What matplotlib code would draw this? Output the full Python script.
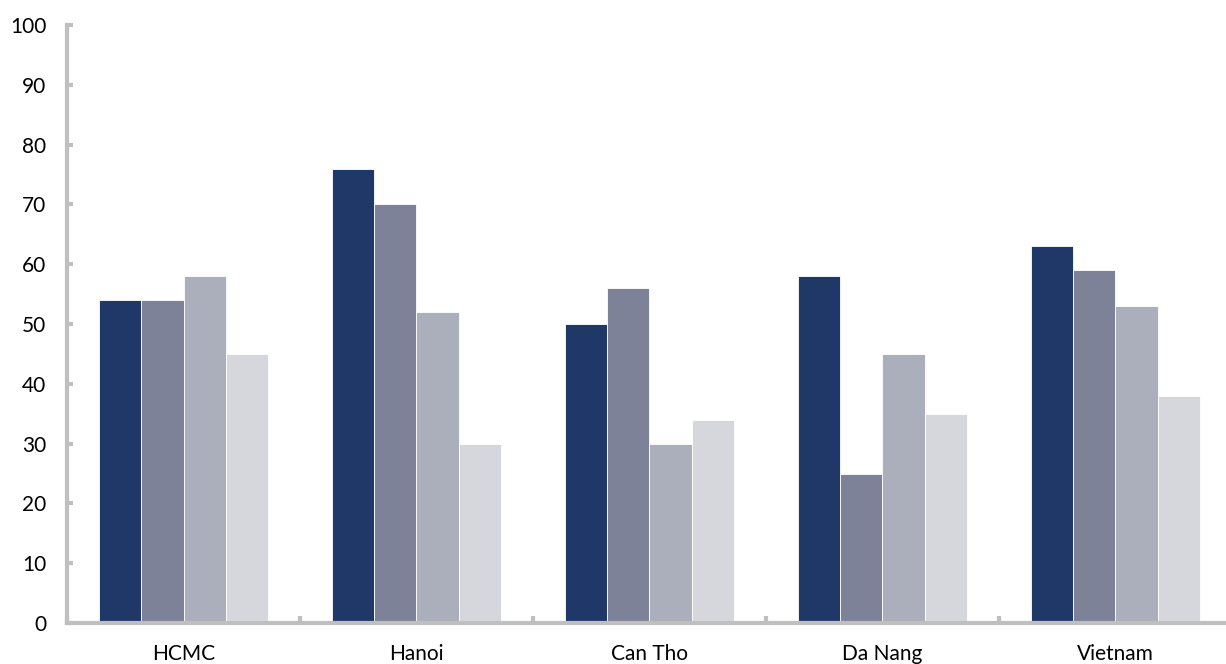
import matplotlib
matplotlib.use("Agg")
import matplotlib.pyplot as plt
import numpy as np

categories = ["HCMC", "Hanoi", "Can Tho", "Da Nang", "Vietnam"]
series_1 = [54, 76, 50, 58, 63]
series_2 = [54, 70, 56, 25, 59]
series_3 = [58, 52, 30, 45, 53]
series_4 = [45, 30, 34, 35, 38]
yticks = [0, 10, 20, 30, 40, 50, 60, 70, 80, 90, 100]

colors = ["#1f3868", "#7e8299", "#abafbb", "#d6d7dd"]
axis_grey = "#bfbfbf"

plt.rcParams["font.family"] = ["Lato", "DejaVu Sans"]

fig = plt.figure(figsize=(12.26, 6.64), dpi=100)
ax = fig.add_axes([0.0547, 0.0617, 0.950, 0.9006])

x = np.arange(len(categories))
bw = 0.182
for i, (vals, c) in enumerate(zip([series_1, series_2, series_3, series_4], colors)):
    ax.bar(x + (i - 1.5) * bw, vals, bw, color=c, edgecolor="white", linewidth=0.6, zorder=2)

ax.set_xlim(-0.5, len(categories) - 0.5)
ax.set_ylim(0, 100)
ax.set_yticks(yticks)
ax.set_xticks(x)
ax.set_xticklabels(categories)
# group separators as small inward ticks on the bottom axis
ax.set_xticks(np.arange(len(categories)) - 0.5, minor=True)

ax.spines[["right", "top"]].set_visible(False)
ax.spines[["left", "bottom"]].set_color(axis_grey)
ax.spines[["left", "bottom"]].set_linewidth(3)

ax.tick_params(axis="y", direction="in", length=4, width=3, color=axis_grey,
               labelsize=15, pad=15, labelcolor="black")
ax.tick_params(axis="x", which="major", length=0, labelsize=15, pad=15, labelcolor="black")
ax.tick_params(axis="x", which="minor", direction="in", length=5, width=3, color=axis_grey)

fig.savefig("out.png", dpi=100)
